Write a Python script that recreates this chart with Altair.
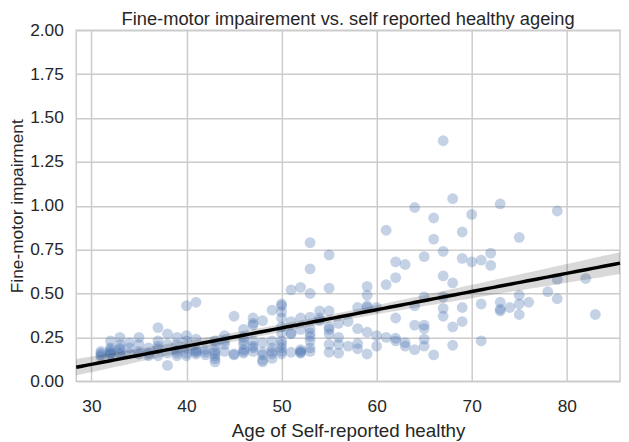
import altair as alt
import pandas as pd
import numpy as np

# ---- data ----
age_groups = [31, 32, 33, 34, 35, 36, 37, 38, 39, 40, 41, 42, 43, 44, 45, 46, 47, 48, 49, 50,
              51, 52, 53, 54, 55, 56, 57, 58, 59, 60, 61, 62, 63, 64, 65, 66, 67, 68, 69, 70,
              71, 72, 73, 74, 75, 76, 78, 79, 82, 83]
impairment_groups = [
    [0.16, 0.14, 0.15, 0.17],
    [0.23, 0.19, 0.17, 0.155, 0.16, 0.15, 0.18],
    [0.25, 0.21, 0.18, 0.155, 0.16, 0.19],
    [0.22, 0.19, 0.16],
    [0.25, 0.21, 0.155, 0.17],
    [0.145, 0.16, 0.19],
    [0.305, 0.23, 0.20, 0.185, 0.145],
    [0.27, 0.21, 0.09, 0.16],
    [0.25, 0.21, 0.175, 0.145, 0.16],
    [0.43, 0.26, 0.23, 0.185, 0.145, 0.16],
    [0.45, 0.24, 0.18, 0.165, 0.17, 0.155],
    [0.18, 0.165, 0.15],
    [0.23, 0.20, 0.175, 0.145, 0.128, 0.11, 0.16],
    [0.26, 0.23, 0.21, 0.17],
    [0.37, 0.155, 0.15],
    [0.295, 0.25, 0.23, 0.21, 0.18, 0.16, 0.17],
    [0.36, 0.33, 0.32, 0.23, 0.20, 0.19, 0.17],
    [0.345, 0.22, 0.165, 0.12, 0.11, 0.15],
    [0.405, 0.23, 0.19, 0.155, 0.13, 0.17],
    [0.44, 0.43, 0.395, 0.36, 0.31, 0.275, 0.23, 0.21, 0.19, 0.155, 0.17],
    [0.52, 0.34, 0.275, 0.27, 0.165],
    [0.535, 0.36, 0.295, 0.165, 0.16, 0.18, 0.17],
    [0.79, 0.64, 0.50, 0.365, 0.30, 0.275, 0.255, 0.23, 0.19, 0.17],
    [0.40, 0.36, 0.345],
    [0.72, 0.53, 0.40, 0.31, 0.295, 0.27, 0.21, 0.165],
    [0.33, 0.25, 0.21, 0.16],
    [0.34, 0.20],
    [0.42, 0.30, 0.215, 0.185],
    [0.54, 0.49, 0.43, 0.42, 0.28, 0.155],
    [0.42, 0.26, 0.20],
    [0.86, 0.55, 0.25],
    [0.68, 0.59, 0.36, 0.245, 0.23],
    [0.665, 0.22, 0.20],
    [0.99, 0.43, 0.32, 0.18],
    [0.71, 0.48, 0.32, 0.30, 0.24, 0.20],
    [0.93, 0.81, 0.15],
    [1.37, 0.74, 0.60, 0.48, 0.415, 0.37],
    [1.04, 0.56, 0.31, 0.205],
    [0.85, 0.70, 0.42, 0.34],
    [0.95, 0.68],
    [0.69, 0.44, 0.23],
    [0.73, 0.66],
    [1.01, 0.45, 0.41, 0.40],
    [0.42],
    [0.82, 0.49, 0.44, 0.38],
    [0.45],
    [0.51],
    [0.97, 0.58, 0.47],
    [0.585],
    [0.38],
]
x_ticks = [30, 40, 50, 60, 70, 80]
y_ticks = [0.0, 0.25, 0.5, 0.75, 1.0, 1.25, 1.5, 1.75, 2.0]

title_text = "Fine-motor impairement vs. self reported healthy ageing"
x_title = "Age of Self-reported healthy"
y_title = "Fine-motor impairment"

# ---- build table ----
ages = []
vals = []
for a, group in zip(age_groups, impairment_groups):
    for v in group:
        ages.append(a)
        vals.append(v)
df = pd.DataFrame({"age": ages, "impairment": vals})

x = np.array(ages, dtype=float)
y = np.array(vals, dtype=float)
x_lo = x.min() - 0.05 * (x.max() - x.min())
x_hi = x.max() + 0.05 * (x.max() - x.min())

# OLS fit with 95% confidence band
n = len(x)
slope, intercept = np.polyfit(x, y, 1)
resid = y - (slope * x + intercept)
s = np.sqrt(np.sum(resid ** 2) / (n - 2))
xbar = x.mean()
sxx = np.sum((x - xbar) ** 2)
grid = np.linspace(x_lo, x_hi, 100)
fit = slope * grid + intercept
se = s * np.sqrt(1.0 / n + (grid - xbar) ** 2 / sxx)
fit_df = pd.DataFrame({"age": grid, "fit": fit, "lo": fit - 1.97 * se, "hi": fit + 1.97 * se})

FONT = "Liberation Sans"
xscale = alt.Scale(domain=[float(x_lo), float(x_hi)], nice=False, zero=False)
yscale = alt.Scale(domain=[0, 2.0], nice=False, zero=False)

x_axis = alt.Axis(values=x_ticks, title=x_title, labelPadding=17, titlePadding=6)
y_axis = alt.Axis(values=y_ticks, format=".2f", title=y_title, labelPadding=13,
                  titlePadding=3, titleFontSize=17.5)

points = alt.Chart(df).mark_circle(size=120, color="#4C72B0", opacity=0.32).encode(
    x=alt.X("age:Q", scale=xscale, axis=x_axis),
    y=alt.Y("impairment:Q", scale=yscale, axis=y_axis),
)

band = alt.Chart(fit_df).mark_area(color="#000000", opacity=0.15).encode(
    x=alt.X("age:Q", scale=xscale),
    y=alt.Y("lo:Q", scale=yscale),
    y2="hi:Q",
)

line = alt.Chart(fit_df).mark_line(color="#000000", strokeWidth=3.5).encode(
    x=alt.X("age:Q", scale=xscale),
    y=alt.Y("fit:Q", scale=yscale),
)

chart = (
    alt.layer(points, band, line)
    .properties(
        width=550,
        height=355,
        title=alt.TitleParams(title_text, anchor="middle", offset=3, frame="group", dy=10),
        autosize=alt.AutoSizeParams(type="none"),
        padding={"left": 69, "top": 20, "right": 1, "bottom": 58},
    )
    .configure_axis(
        grid=True,
        gridColor="#cccccc",
        gridWidth=1.5,
        domain=False,
        ticks=False,
        tickSize=0,
        labelFont=FONT,
        labelFontSize=17.5,
        labelColor="#262626",
        titleFont=FONT,
        titleFontSize=19,
        titleFontWeight="normal",
        titleColor="#262626",
    )
    .configure_view(stroke="#cccccc", strokeWidth=1.5)
    .configure_title(font=FONT, fontSize=18.5, fontWeight="normal", color="#262626")
)

chart.save("out.html", embed_options={"renderer": "svg", "actions": False})
